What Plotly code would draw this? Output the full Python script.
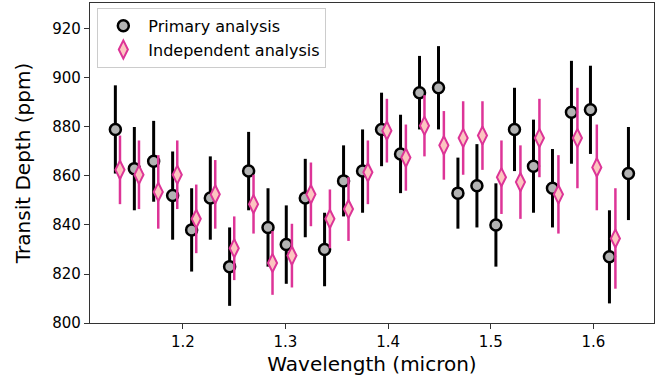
import plotly.graph_objects as go

# Primary analysis (black circles)
wl_prim = [1.1343, 1.1528, 1.1716, 1.1901, 1.2086, 1.2268, 1.2456, 1.2641, 1.2830, 1.3008,
           1.3193, 1.3381, 1.3566, 1.3751, 1.3936, 1.4121, 1.4306, 1.4491, 1.4680, 1.4865,
           1.5050, 1.5231, 1.5416, 1.5601, 1.5786, 1.5971, 1.6156, 1.6341]
depth_prim = [879, 863, 866, 852, 838, 851, 823, 862, 839, 832,
              851, 830, 858, 862, 879, 869, 894, 896, 853, 856,
              840, 879, 864, 855, 886, 887, 827, 861]
err_prim = [18, 17, 16.5, 18, 17, 17, 16, 16, 16, 16,
            16, 15, 14.5, 17, 15, 16, 15, 17, 14.5, 17,
            17, 17, 19, 16, 21, 18, 19, 19]

# Independent analysis (pink diamonds)
wl_ind = [1.1388, 1.1573, 1.1761, 1.1946, 1.2131, 1.2316, 1.2501, 1.2689, 1.2874, 1.3063,
          1.3248, 1.3433, 1.3614, 1.3803, 1.3988, 1.4173, 1.4354, 1.4543, 1.4731, 1.4919,
          1.5104, 1.5289, 1.5474, 1.5659, 1.5844, 1.6033, 1.6214]
depth_ind = [862.5, 860.5, 853.5, 860.5, 842.5, 852.5, 830.5, 848.5, 824.5, 827.5,
             852.5, 842.5, 846.5, 861.5, 878.5, 867.5, 880.5, 872.5, 875.5, 876.5,
             859.5, 857.5, 875.5, 852.5, 875.5, 863.5, 834.5]
err_ind = [14, 14, 15, 14, 14, 14, 13, 12, 13, 13,
           13, 12, 13, 13, 13, 13.5, 12.5, 14, 15, 14,
           15, 15, 16, 16, 20.5, 17.5, 20.5]

x_ticks = [1.2, 1.3, 1.4, 1.5, 1.6]
y_ticks = [800, 820, 840, 860, 880, 900, 920]

font = "DejaVu Sans"

fig = go.Figure()
fig.add_trace(go.Scatter(
    x=wl_prim, y=depth_prim, mode="markers", name="Primary analysis",
    error_y=dict(type="data", array=err_prim, color="black", thickness=3, width=0),
    marker=dict(symbol="circle", size=11, color="#b3b3b3",
                line=dict(color="black", width=2.5)),
))
fig.add_trace(go.Scatter(
    x=wl_ind, y=depth_ind, mode="markers", name="Independent analysis",
    error_y=dict(type="data", array=err_ind, color="#dd3497", thickness=2.5, width=0),
    marker=dict(symbol="diamond-tall", size=13, color="#fcc5c0",
                line=dict(color="#dd3497", width=2)),
))

axis_common = dict(showline=True, linecolor="#333333", linewidth=1.2, mirror=True,
                   ticks="outside", ticklen=5, tickcolor="#333333", showgrid=False,
                   zeroline=False, tickfont=dict(family=font, size=15, color="black"))

fig.update_layout(
    width=664, height=380,
    margin=dict(l=90, r=10, t=3, b=57, autoexpand=False),
    paper_bgcolor="white", plot_bgcolor="white",
    font=dict(family=font, color="black"),
    showlegend=True,
    legend=dict(x=0.013, y=0.985, xanchor="left", yanchor="top",
                bgcolor="rgba(255,255,255,0.85)", bordercolor="#cccccc", borderwidth=1,
                font=dict(family=font, size=16), itemwidth=40),
    xaxis=dict(range=[1.1096, 1.659], tickvals=x_ticks, ticktext=[str(t) for t in x_ticks],
               title=dict(text="Wavelength (micron)", font=dict(family=font, size=20), standoff=6),
               automargin=False, **axis_common),
    yaxis=dict(range=[800, 930.6], tickvals=y_ticks,
               title=dict(text="Transit Depth (ppm)", font=dict(family=font, size=20), standoff=16),
               automargin=False, **axis_common),
)

# drop the default page margin so the figure sits at the window's corner
fig.write_html("out.html", config={"displayModeBar": False},
               post_script="document.body.style.margin='0';")
